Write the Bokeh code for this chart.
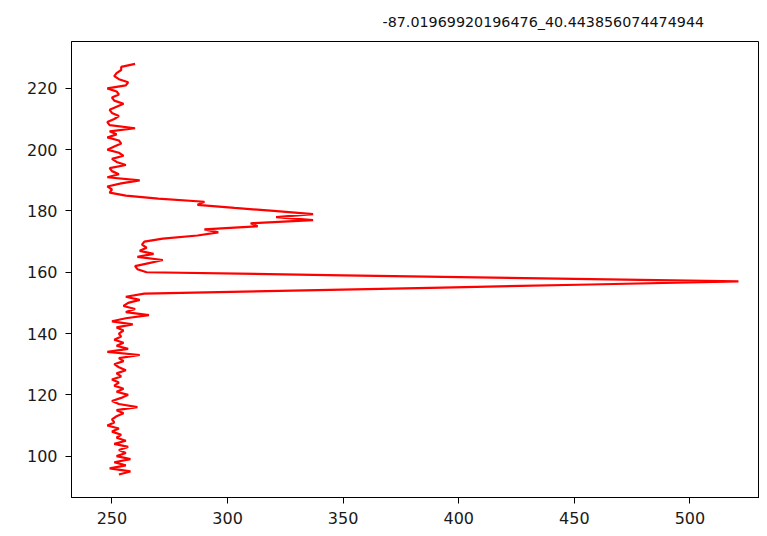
from bokeh.plotting import figure
from bokeh.models import Range1d, FixedTicker
from bokeh.embed import file_html
from bokeh.resources import INLINE

title_text = "-87.01969920196476_40.443856074474944"

# vertical coordinate (index) and measured value
depth = list(range(94, 229))
value = [
    # 94-103
    253, 258, 249, 256, 251, 258, 252, 256, 253, 257,
    # 104-113
    251, 256, 252, 254, 250, 253, 248, 251, 250, 252,
    # 114-123
    255, 252, 261, 253, 250, 254, 257, 252, 255, 251,
    # 124-133
    253, 250, 254, 252, 256, 253, 251, 255, 253, 262,
    # 134-143
    248, 257, 252, 255, 251, 254, 253, 255, 252, 259,
    # 144-153
    250, 256, 266, 256, 260, 255, 257, 262, 256, 264,
    # 154-163
    328, 393, 457, 521, 436, 350, 265, 261, 260, 266,
    # 164-173
    272, 261, 268, 262, 265, 263, 264, 272, 287, 296,
    # 174-183
    290, 313, 310, 337, 321, 337, 320, 303, 287, 290,
    # 184-193
    270, 256, 249, 250, 248, 254, 262, 248, 253, 250,
    # 194-203
    249, 256, 252, 250, 255, 253, 248, 251, 254, 253,
    # 204-213
    248, 252, 249, 260, 249, 248, 251, 253, 250, 249,
    # 214-223
    252, 255, 251, 250, 253, 252, 248, 256, 257, 253,
    # 224-228
    251, 252, 254, 254, 260,
]

x_ticks = [250, 300, 350, 400, 450, 500]
y_ticks = [100, 120, 140, 160, 180, 200, 220]

p = figure(width=759, height=528, output_backend="svg", toolbar_location=None,
           x_range=Range1d(232.5, 530.1), y_range=Range1d(86.5, 235.3),
           min_border_left=71, min_border_right=0, min_border_top=41,
           min_border_bottom=31)

p.line(value, depth, line_color="#ff0000", line_width=2.2)

p.title.text = title_text
p.title.align = "left"
p.title.offset = 311
p.title.standoff = 23
p.title.text_font = "DejaVu Sans"
p.title.text_font_size = "14.3px"
p.title.text_font_style = "normal"
p.title.text_color = "#111111"

p.grid.visible = False
p.outline_line_color = "#000000"
p.outline_line_width = 1
p.background_fill_color = "white"
p.border_fill_color = "white"

for ax, ticks in ((p.xaxis, x_ticks), (p.yaxis, y_ticks)):
    ax.ticker = FixedTicker(ticks=ticks)
    ax.minor_tick_line_color = None
    ax.major_tick_in = 0
    ax.major_tick_out = 6
    ax.major_label_text_font = "DejaVu Sans"
    ax.major_label_text_font_size = "16px"
    ax.major_label_text_color = "#1a1a1a"
    ax.axis_line_color = "#000000"
    ax.major_tick_line_color = "#000000"
    ax.major_label_standoff = 8

open("out.html", "w").write(file_html(p, INLINE))
